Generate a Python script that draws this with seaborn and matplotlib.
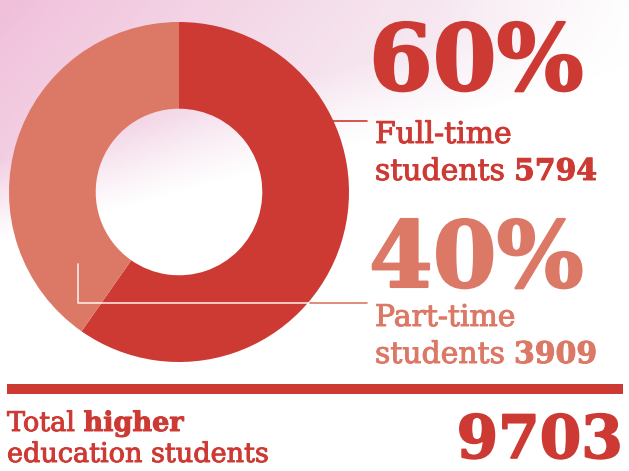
import numpy as np
import matplotlib
matplotlib.use("Agg")
import matplotlib.pyplot as plt
import matplotlib.patheffects as pe
import seaborn as sns

# data
labels = ["Full-time", "Part-time"]
students = [5794, 3909]
total = 9703
shares = ["60%", "40%"]
colors = ["#cd3a34", "#dc7866"]

sns.set_theme(style="white")
plt.rcParams["font.family"] = ["DejaVu Serif", "DejaVu Sans"]

W, H = 629, 471
fig = plt.figure(figsize=(W / 100, H / 100), dpi=100)
fig.patch.set_facecolor("white")

# overlay axes in pixel coordinates
ov = fig.add_axes([0, 0, 1, 1])
ov.set_xlim(0, W)
ov.set_ylim(H, 0)
ov.axis("off")

# soft pink watercolour wash in the background
yy, xx = np.mgrid[0:H, 0:W]
edge = 240 - 0.27 * xx
a = np.clip((edge - yy) / 80.0, 0, 1) * np.clip((640 - xx) / 200.0, 0, 1)
strength = np.clip(1.0 - xx / 650.0 - yy / 700.0, 0.25, 1)
bg = np.ones((H, W, 4))
bg[..., 0] = 0.94
bg[..., 1] = 0.72 + 0.16 * (1 - strength)
bg[..., 2] = 0.84 + 0.08 * (1 - strength)
bg[..., 3] = a * (0.4 + 0.5 * strength)
ov.imshow(bg, extent=[0, W, H, 0], zorder=0, interpolation="bilinear")

# donut
cx, cy, r = 179, 192, 170
dax = fig.add_axes([(cx - r) / W, (H - cy - r) / H, 2 * r / W, 2 * r / H])
dax.pie(students, colors=colors, startangle=90, counterclock=False,
        wedgeprops=dict(width=0.51, linewidth=0))
dax.set_xlim(-1, 1)
dax.set_ylim(-1, 1)
dax.set_aspect("equal")
dax.axis("off")
dax.set_zorder(1)

# text layer above donut
tx = fig.add_axes([0, 0, 1, 1])
tx.set_xlim(0, W)
tx.set_ylim(H, 0)
tx.axis("off")
tx.set_zorder(2)
tx.patch.set_alpha(0)

# leader lines
tx.plot([333, 367], [121, 121], color=colors[0], lw=1.2)
tx.plot([78, 78, 310], [264, 303, 303], color="white", lw=1.2, alpha=0.85)
tx.plot([310, 367], [303, 303], color=colors[1], lw=1.2)

fig.canvas.draw()
renderer = fig.canvas.get_renderer()


def runs(x, y, parts, color, size, thick=0.7):
    # draw pieces of text side by side, normal and bold
    for s, w in parts:
        t = tx.text(x, y, s, color=color, fontsize=size, fontweight=w,
                    va="baseline", ha="left")
        t.set_path_effects([pe.withStroke(linewidth=thick, foreground=color)])
        bb = t.get_window_extent(renderer)
        x += bb.width


# percentages
runs(369, 90, [(shares[0], "bold")], colors[0], 66, thick=1.5)
runs(369, 287, [(shares[1], "bold")], colors[1], 66, thick=1.5)

runs(375, 143, [(labels[0], "normal")], colors[0], 21.5)
runs(375, 180, [("students ", "normal"), (str(students[0]), "bold")], colors[0], 21.5)
runs(375, 326, [(labels[1], "normal")], colors[1], 21.5)
runs(375, 363, [("students ", "normal"), (str(students[1]), "bold")], colors[1], 21.5)

# total bar and label
tx.add_patch(plt.Rectangle((7, 384), 616, 10, color=colors[0], lw=0))
runs(7, 431, [("Total ", "normal"), ("higher", "bold")], colors[0], 19.5)
runs(7, 462, [("education students", "normal")], colors[0], 19.5)
t = tx.text(623, 470, str(total), color=colors[0], fontsize=43, fontweight="bold",
            va="bottom", ha="right")
t.set_path_effects([pe.withStroke(linewidth=1.2, foreground=colors[0])])

fig.savefig("out.png", dpi=100, facecolor="white")
